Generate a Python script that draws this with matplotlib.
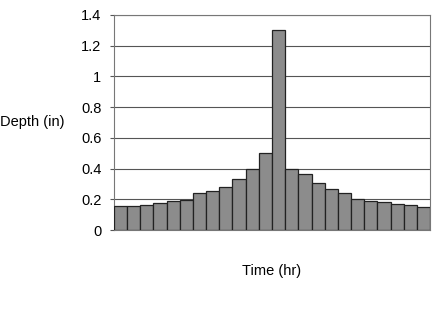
import numpy as np
import matplotlib
matplotlib.use('Agg')
import matplotlib.pyplot as plt

plt.rcParams['font.family'] = ['Liberation Sans', 'DejaVu Sans']

# hourly depth values
hours = np.arange(1, 25)
depth = [0.155, 0.159, 0.166, 0.174, 0.187, 0.196, 0.239, 0.256, 0.282, 0.335,
         0.398, 0.499, 1.30, 0.40, 0.363, 0.305, 0.269, 0.243, 0.204, 0.191,
         0.181, 0.172, 0.166, 0.151]
yticks = [0, 0.2, 0.4, 0.6, 0.8, 1, 1.2, 1.4]
ytick_labels = ['0', '0.2', '0.4', '0.6', '0.8', '1', '1.2', '1.4']

fig = plt.figure(figsize=(4.38, 3.14), dpi=100)
ax = fig.add_axes([0.260, 0.2675, 0.722, 0.685])

ax.bar(hours, depth, width=1.0, color='#8c8c8c', edgecolor='#222222', linewidth=0.9, zorder=3)

ax.set_xlim(0.5, 24.5)
ax.set_ylim(0, 1.4)
ax.set_yticks(yticks)
ax.set_yticklabels(ytick_labels, fontsize=10.5)
ax.set_xticks([])
ax.grid(axis='y', color='#555555', linewidth=0.8, zorder=0)
ax.tick_params(axis='y', length=3, width=0.8, color='#555555', pad=6)
for s in ax.spines.values():
    s.set_color('#777777')
    s.set_linewidth(0.8)

ax.set_xlabel('Time (hr)', fontsize=10.5)
ax.xaxis.set_label_coords(0.5, -0.158)
ax.set_ylabel('Depth (in)', fontsize=10.5, rotation=0, ha='right', va='center')
ax.yaxis.set_label_coords(-0.155, 0.5)

fig.savefig('out.png', dpi=100)
